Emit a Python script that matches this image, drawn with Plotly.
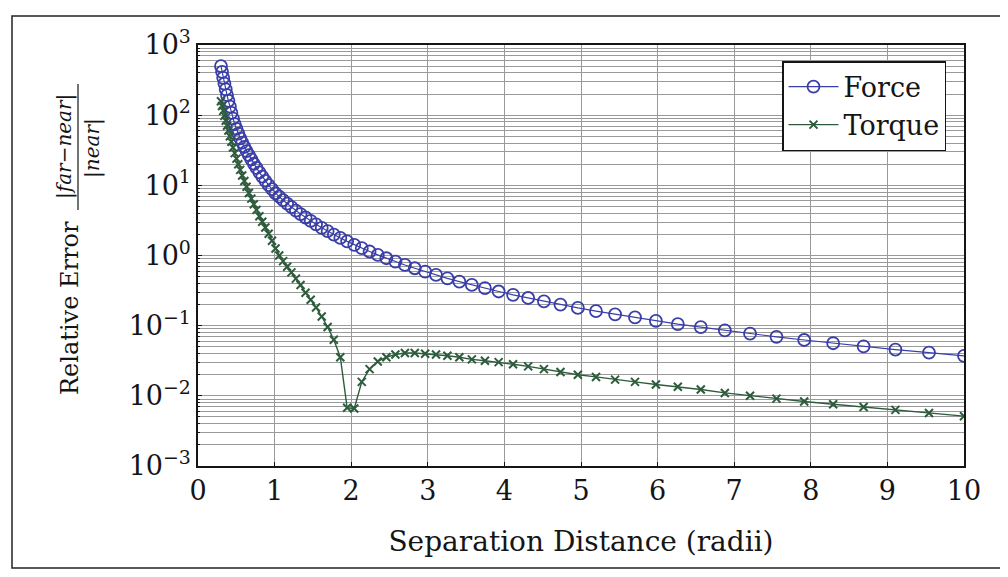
import plotly.graph_objects as go

# Separation distance (radii) sample points shared by both series
sep = [0.300, 0.314, 0.329, 0.345, 0.362, 0.379, 0.397, 0.416, 0.436, 0.457,
       0.479, 0.502, 0.526, 0.551, 0.577, 0.605, 0.634, 0.664, 0.696, 0.729,
       0.764, 0.801, 0.839, 0.879, 0.922, 0.966, 1.012, 1.060, 1.111, 1.164,
       1.220, 1.278, 1.339, 1.404, 1.471, 1.541, 1.615, 1.692, 1.773, 1.858,
       1.947, 2.040, 2.138, 2.240, 2.347, 2.459, 2.577, 2.701, 2.830, 2.965,
       3.107, 3.256, 3.412, 3.575, 3.746, 3.925, 4.113, 4.310, 4.516, 4.732,
       4.959, 5.196, 5.445, 5.705, 5.978, 6.264, 6.564, 6.878, 7.207, 7.552,
       7.914, 8.292, 8.689, 9.105, 9.543, 10.000]

force = [501, 414, 341, 282, 233, 193, 160, 132, 108, 89.1,
         74.6, 63.8, 54.6, 46.8, 40.5, 35.2, 30.8, 26.9, 23.4, 20.3,
         17.7, 15.3, 13.3, 11.6, 10.1, 8.81, 7.71, 6.89, 6.14, 5.48,
         4.90, 4.37, 3.90, 3.48, 3.11, 2.78, 2.48, 2.22, 1.99, 1.78,
         1.59, 1.42, 1.27, 1.14, 1.02, 0.914, 0.818, 0.733, 0.658, 0.589,
         0.528, 0.473, 0.425, 0.381, 0.342, 0.307, 0.275, 0.248, 0.222, 0.200,
         0.179, 0.161, 0.145, 0.131, 0.117, 0.105, 0.0951, 0.0855, 0.0769, 0.0693,
         0.0625, 0.0562, 0.0507, 0.0457, 0.0412, 0.0372]

torque = [158, 135, 115, 97.7, 83.2, 70.8, 60.3, 50.1, 41.7, 34.7,
          28.8, 24.0, 20.0, 16.6, 13.8, 11.5, 9.55, 7.76, 6.46, 5.37,
          4.47, 3.63, 3.02, 2.51, 2.04, 1.62, 1.26, 1.00, 0.832, 0.692,
          0.575, 0.468, 0.380, 0.295, 0.234, 0.182, 0.135, 0.0955, 0.0631, 0.0355,
          0.00676, 0.00661, 0.0158, 0.0240, 0.0309, 0.0355, 0.0389, 0.0407, 0.0407, 0.0398,
          0.0389, 0.0372, 0.0355, 0.0331, 0.0316, 0.0302, 0.0282, 0.0263, 0.0240, 0.0219,
          0.0200, 0.0186, 0.0170, 0.0158, 0.0145, 0.0135, 0.0123, 0.0110, 0.0100, 0.00912,
          0.00832, 0.00759, 0.00692, 0.00631, 0.00569, 0.00513]

x_ticks = [0, 1, 2, 3, 4, 5, 6, 7, 8, 9, 10]
y_tickvals = [1e-3, 1e-2, 1e-1, 1, 10, 100, 1000]
y_ticktext = ["10<sup>−3</sup>", "10<sup>−2</sup>", "10<sup>−1</sup>", "10<sup>0</sup>",
              "10<sup>1</sup>", "10<sup>2</sup>", "10<sup>3</sup>"]

FONT = "DejaVu Serif"
BLUE = "#3a3ea8"
GREEN = "#2d5c3c"
GRID = "#9a9a9a"
INK = "#151515"
FS = 27

fig = go.Figure()
fig.add_trace(go.Scatter(
    x=sep, y=force, name="Force", mode="lines+markers",
    line=dict(color=BLUE, width=1.2),
    marker=dict(symbol="circle-open", size=12, color=BLUE, line=dict(width=1.8, color=BLUE)),
))
fig.add_trace(go.Scatter(
    x=sep, y=torque, name="Torque", mode="lines+markers",
    line=dict(color=GREEN, width=1.4),
    marker=dict(symbol="x-thin", size=8, color=GREEN, line=dict(width=2, color=GREEN)),
))

# page body adds an 8px offset; positions below are in screen pixels
OFF = 8
W, H = 1008, 577
SL, SR, ST, SB = 198, 964, 45, 466          # plot box on screen
L, T = SL - OFF, ST - OFF
R, B = W - (SR - OFF), H - (SB - OFF)
pw, ph = W - L - R, H - T - B

def px(xs):
    return (xs - SL) / pw

def py(ys):
    return (SB - ys) / ph

fig.update_layout(
    width=W, height=H,
    margin=dict(l=L, r=R, t=T, b=B, pad=0, autoexpand=False),
    paper_bgcolor="white", plot_bgcolor="white",
    font=dict(family=FONT, size=FS, color=INK),
    showlegend=True,
    legend=dict(
        x=px(946), y=py(61), xanchor="right", yanchor="top",
        bgcolor="white", bordercolor=INK, borderwidth=1.5,
        font=dict(family=FONT, size=FS, color=INK),
        itemwidth=50, tracegroupgap=0,
    ),
    xaxis=dict(
        range=[0, 10], tickvals=x_ticks, ticktext=[str(v) for v in x_ticks],
        automargin=False,
        showgrid=True, gridcolor=GRID, gridwidth=1,
        showline=True, linecolor=INK, linewidth=1.5, mirror=True,
        ticks="inside", ticklen=4, tickcolor=INK,
        zeroline=False,
        title=dict(text="Separation Distance (radii)", standoff=26,
                   font=dict(family=FONT, size=28, color=INK)),
        tickfont=dict(family=FONT, size=FS, color=INK),
    ),
    yaxis=dict(
        type="log", range=[-3, 3],
        tickvals=y_tickvals, ticktext=y_ticktext,
        automargin=False,
        showgrid=True, gridcolor=GRID, gridwidth=1,
        minor=dict(dtick="D1", showgrid=True, gridcolor=GRID, gridwidth=1,
                   ticks="inside", ticklen=2, tickcolor=INK),
        showline=True, linecolor=INK, linewidth=1.5, mirror=True,
        ticks="inside", ticklen=4, tickcolor=INK,
        zeroline=False,
        tickfont=dict(family=FONT, size=FS, color=INK),
    ),
)

# y-axis title rendered as rotated text with a stacked fraction
fig.add_annotation(text="Relative Error", xref="paper", yref="paper",
                   x=px(70), y=py(308), xanchor="center", yanchor="middle",
                   textangle=-90, showarrow=False,
                   font=dict(family=FONT, size=24, color=INK))
fig.add_annotation(text="|<i>far</i>−<i>near</i>|", xref="paper", yref="paper",
                   x=px(64), y=py(147), xanchor="center", yanchor="middle",
                   textangle=-90, showarrow=False,
                   font=dict(family=FONT, size=20, color=INK))
fig.add_annotation(text="|<i>near</i>|", xref="paper", yref="paper",
                   x=px(92), y=py(148), xanchor="center", yanchor="middle",
                   textangle=-90, showarrow=False,
                   font=dict(family=FONT, size=20, color=INK))
fig.add_shape(type="line", xref="paper", yref="paper",
              x0=px(78), x1=px(78), y0=py(84), y1=py(210),
              line=dict(color=INK, width=1.2))

# scanned page frame
fig.add_shape(type="rect", xref="paper", yref="paper",
              x0=px(12), x1=px(1003), y0=py(568), y1=py(16),
              line=dict(color="#222", width=1.5), layer="below")

fig.write_html("out.html")
